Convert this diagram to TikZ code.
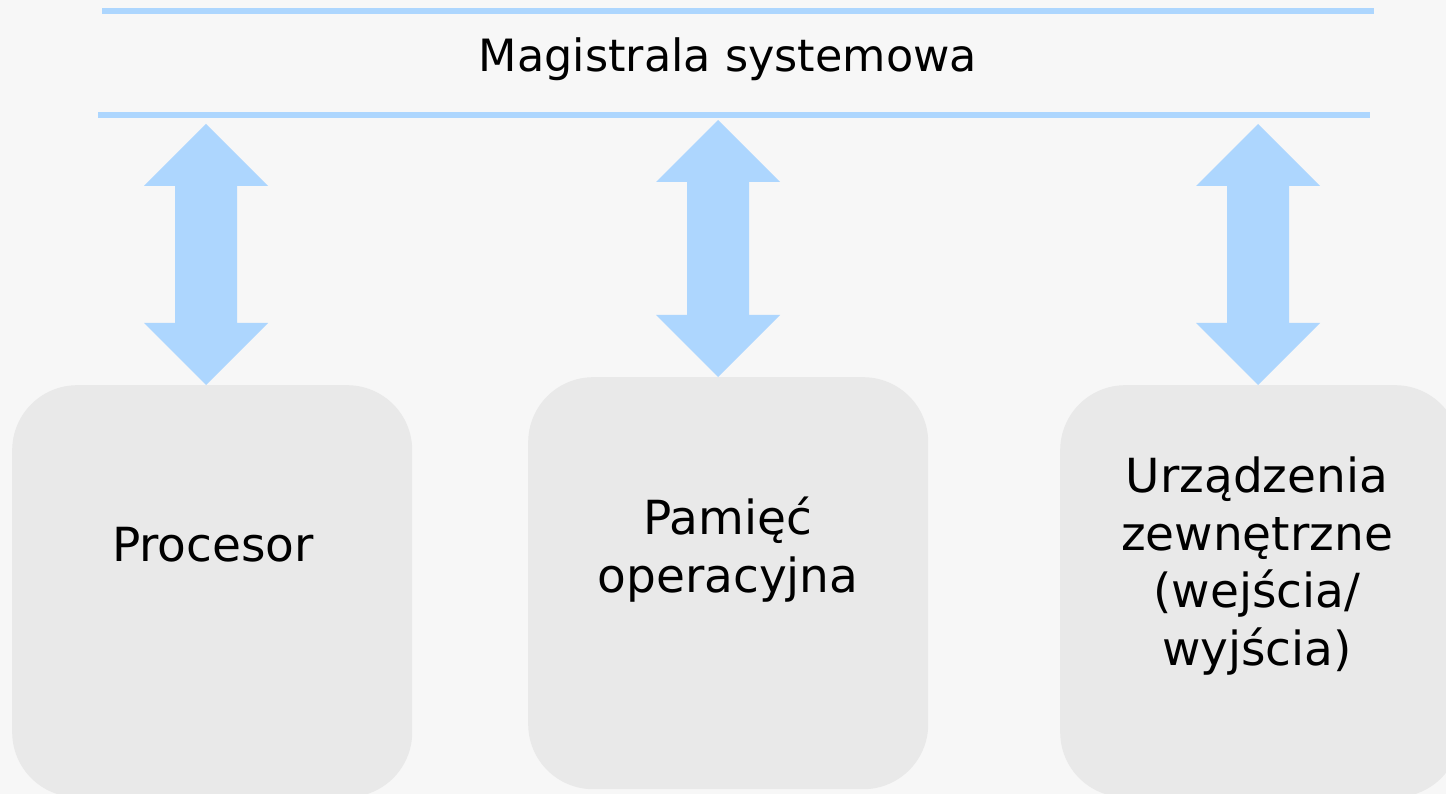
\documentclass[tikz,border=0pt]{standalone}
\usepackage{fontspec}
\setmainfont{DejaVu Sans}
\usetikzlibrary{calc}
\definecolor{bg}{RGB}{247,247,247}
\definecolor{busblue}{RGB}{173,214,254}
\definecolor{boxgray}{RGB}{233,233,233}
\tikzset{
  busline/.style={draw=busblue, line width=6pt},
  unitbox/.style={fill=boxgray, draw=none, rounded corners=65pt, minimum width=400pt, inner sep=0pt},
  lbl/.style={font=\fontsize{47}{57.5}\selectfont, align=center, inner sep=0pt, anchor=base},
  arrowfill/.style={fill=busblue, draw=none},
}
\newcommand\busarrow[2]{%
  \fill[arrowfill] let \p1=(#1), \p2=(#2) in
    (\x1,\y1) -- (\x1+62pt,\y1-62pt) -- (\x1+31pt,\y1-62pt) -- (\x2+31pt,\y2+62pt)
    -- (\x2+62pt,\y2+62pt) -- (\x2,\y2) -- (\x2-62pt,\y2+62pt) -- (\x2-31pt,\y2+62pt)
    -- (\x1-31pt,\y1-62pt) -- (\x1-62pt,\y1-62pt) -- cycle;}
\begin{document}
\begin{tikzpicture}[x=1pt,y=-1pt]
  \useasboundingbox (0,0) rectangle (1446,794);
  \fill[bg] (0,0) rectangle (1446,794);
  % bus
  \coordinate (busTopL) at (102,11);
  \coordinate (busTopR) at (1374,11);
  \coordinate (busBotL) at (98,115);
  \coordinate (busBotR) at (1370,115);
  \draw[busline] (busTopL) -- (busTopR);
  \draw[busline] (busBotL) -- (busBotR);
  \node[lbl, font=\fontsize{44.5}{54}\selectfont] (bus) at (728,72) {Magistrala systemowa};
  % boxes
  \node[unitbox, minimum height=412pt, anchor=north west] (cpu) at (12,385) {};
  \node[unitbox, minimum height=412pt, anchor=north west] (mem) at (528,377) {};
  \node[unitbox, minimum height=412pt, anchor=north west] (io) at (1060,385) {};
  \node[lbl] (cpuT) at (213,561) {Procesor};
  \node[lbl] (memT) at (728,592) {Pamięć\\operacyjna};
  \node[lbl] (ioT) at (1257,665) {Urządzenia\\zewnętrzne\\(wejścia/\\wyjścia)};
  % arrows
  \coordinate (a1t) at (206,124);
  \coordinate (a2t) at (718,120);
  \coordinate (a3t) at (1258,124);
  \coordinate (a1b) at (cpu.north -| a1t);
  \coordinate (a2b) at (mem.north -| a2t);
  \coordinate (a3b) at (io.north -| a3t);
  \busarrow{a1t}{a1b}
  \busarrow{a2t}{a2b}
  \busarrow{a3t}{a3b}
\end{tikzpicture}
\end{document}
